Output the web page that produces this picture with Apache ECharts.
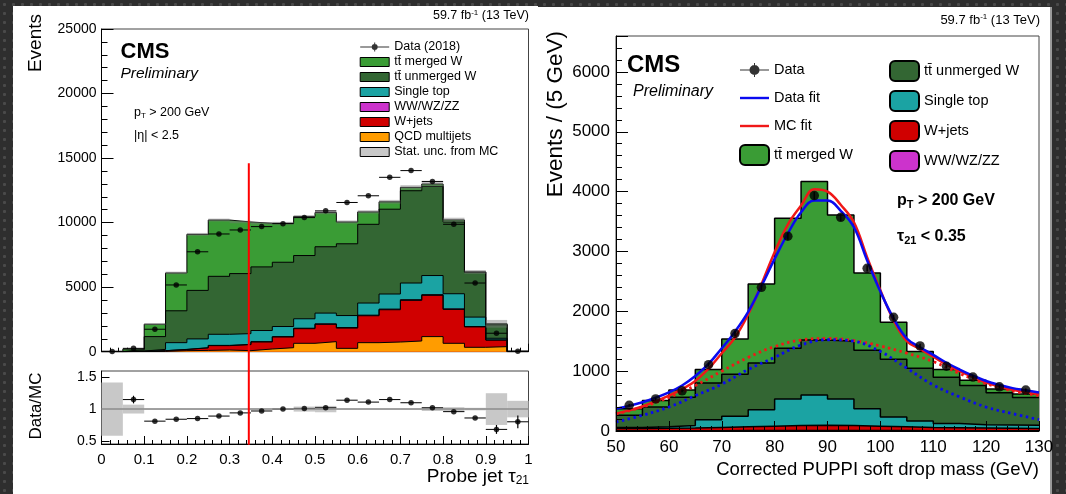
<!DOCTYPE html>
<html>
<head>
<meta charset="utf-8">
<title>CMS W tagging</title>
<script src="https://cdn.jsdelivr.net/npm/echarts@6.0.0/dist/echarts.min.js"></script>
<style>
  html, body { margin: 0; padding: 0; }
  body {
    position: relative; width: 1066px; height: 494px; overflow: hidden;
    background-color: #2e2e2e;
    background-image: radial-gradient(circle, #4a4a4a 1.3px, transparent 1.8px);
    background-size: 9px 9px;
  }
  .panel { position: absolute; background: #fff; }
  #panelLeft { left: 13px; top: 6px; width: 525px; height: 488px; }
  #panelRight { left: 538px; top: 7px; width: 512px; height: 487px; border-right: 2px solid #9a9a9a; }
  #chart { position: absolute; left: 0; top: 0; width: 1066px; height: 494px; }
</style>
</head>
<body>
<div class="panel" id="panelLeft"></div>
<div class="panel" id="panelRight"></div>
<div id="chart"></div>
<script>
// ---- left plot: probe jet tau21, 20 bins ----
const tauEdges = [0, 0.05, 0.1, 0.15, 0.2, 0.25, 0.3, 0.35, 0.4, 0.45, 0.5, 0.55, 0.6, 0.65, 0.7, 0.75, 0.8, 0.85, 0.9, 0.95, 1]
const tauQcd = [0, 10, 25, 80, 100, 130, 80, 210, 310, 650, 780, 260, 700, 750, 830, 1170, 650, 340, 390, 0]
const tauWjets = [0, 20, 50, 90, 195, 340, 470, 545, 830, 1135, 1340, 1570, 2085, 2500, 3145, 3195, 2625, 1580, 510, 10]
const tauDiboson = [0, 0, 5, 10, 15, 20, 20, 25, 30, 35, 40, 40, 45, 50, 55, 55, 45, 30, 10, 0]
const tauSingleTop = [0, 20, 100, 520, 680, 860, 830, 860, 780, 730, 830, 930, 940, 1170, 1290, 1480, 1170, 730, 130, 0]
const tauUnmerged = [20, 110, 990, 2470, 3760, 4490, 4650, 4930, 4980, 4900, 5140, 5560, 6100, 6570, 7150, 6910, 5560, 3480, 1040, 20]
const tauMerged = [10, 40, 960, 2930, 4340, 4360, 4000, 3380, 3020, 3020, 2650, 1690, 960, 570, 260, 180, 160, 20, 80, 10]
const tauStatUnc = [10, 20, 60, 100, 110, 110, 100, 100, 110, 120, 130, 120, 130, 150, 170, 190, 170, 150, 300, 10]
const tauData = [20, 260, 1740, 5170, 7740, 9120, 9430, 9690, 9920, 10390, 10910, 11560, 12080, 13510, 14030, 13190, 9870, 5320, 1430, 30]
// data / MC ratio panel
const tauRatio = [null, 1.15, 0.81, 0.84, 0.85, 0.89, 0.94, 0.97, 1.0, 1.01, 1.02, 1.14, 1.11, 1.15, 1.1, 1.02, 0.96, 0.86, 0.68, 0.8]
const tauRatioErr = [0, 0.06, 0, 0, 0, 0, 0, 0, 0, 0, 0, 0, 0, 0, 0, 0, 0, 0, 0.07, 0.1]
const tauRatioUnc = [0.42, 0.07, 0.01, 0.01, 0.01, 0.01, 0.01, 0.01, 0.01, 0.04, 0.05, 0.01, 0.01, 0.01, 0.01, 0.03, 0.03, 0.02, 0.25, 0.13]
const ratioTicks = [0.5, 1, 1.5]
// tau21 < 0.35 cut drawn across both panels
const tauCut = 0.345
const cutTop = 14600
const cutBottom = -7200

// ---- right plot: corrected PUPPI soft drop mass, 5 GeV bins ----
const massEdges = [50, 55, 60, 65, 70, 75, 80, 85, 90, 95, 100, 105, 110, 115, 120, 125, 130]
const massDiboson = [5, 5, 5, 5, 10, 10, 10, 10, 10, 10, 10, 5, 5, 5, 5, 5]
const massWjets = [35, 40, 45, 55, 60, 70, 80, 85, 80, 70, 60, 55, 50, 45, 40, 35]
const massSingleTop = [20, 25, 40, 130, 176, 275, 446, 506, 446, 292, 165, 109, 71, 55, 55, 55]
const massUnmerged = [202, 329, 473, 610, 704, 782, 847, 918, 964, 978, 965, 881, 774, 655, 540, 465]
const massMerged = [108, 109, 120, 227, 586, 1320, 2171, 2648, 2110, 1291, 616, 278, 127, 87, 60, 58]
const massData = [430, 536, 672, 1109, 1628, 2401, 3254, 3933, 3571, 2719, 1900, 1421, 1082, 902, 738, 683]
const massDataErr = [21, 23, 26, 33, 40, 49, 57, 63, 60, 52, 44, 38, 33, 30, 27, 26]
// fitted curves
const fitMass = [50, 52.5, 55, 57.5, 60, 62.5, 65, 67.5, 70, 72.5, 75, 77.5, 80, 82.5, 85, 87.5, 90, 92.5, 95, 97.5, 100, 102.5, 105, 107.5, 110, 112.5, 115, 117.5, 120, 122.5, 125, 127.5, 130]
const dataFit = [372, 420, 480, 555, 644, 760, 918, 1120, 1382, 1660, 1990, 2420, 2875, 3300, 3655, 3850, 3850, 3680, 3404, 2850, 2330, 1880, 1546, 1400, 1273, 1140, 1027, 925, 836, 770, 716, 680, 644]
const mcFit = [290, 345, 410, 495, 590, 700, 836, 1040, 1300, 1560, 1950, 2450, 2986, 3450, 3766, 4040, 4000, 3780, 3487, 2900, 2350, 1850, 1500, 1370, 1240, 1110, 1000, 900, 810, 745, 690, 650, 610]
const bkgMass = [50, 55, 60, 65, 70, 75, 80, 85, 90, 95, 100, 105, 110, 115, 120, 125, 130]
const dataBkg = [150, 262, 400, 590, 782, 1028, 1230, 1437, 1525, 1500, 1328, 1050, 770, 570, 400, 290, 190]
const mcBkg = [285, 400, 560, 760, 1000, 1230, 1410, 1520, 1546, 1510, 1420, 1300, 1160, 960, 790, 670, 590]

const FONT = "'Liberation Sans', Arial, Helvetica, sans-serif"
const C = {
  merged: '#3a9c35', unmerged: '#336633', single: '#1ba3a3',
  diboson: '#cc33cc', wjets: '#d00000', qcd: '#ff9c00', unc: '#c8c8c8'
}
const TT = 'tt\u0304'

function stepData (edges, vals) {
  const d = vals.map((v, i) => [edges[i], v])
  d.push([edges[edges.length - 1], vals[vals.length - 1]])
  return d
}
function centers (edges) {
  return edges.slice(0, -1).map((e, i) => (e + edges[i + 1]) / 2)
}
// running sums, bottom component first
function cumulate (parts) {
  const out = []
  let run = parts[0].map(() => 0)
  parts.forEach(p => {
    run = run.map((r, i) => r + p[i])
    out.push(run)
  })
  return out
}
// each layer is drawn as a filled step histogram of its cumulative height;
// series are listed top layer first so the lower layers paint over them
function stackSeries (names, colors, parts, edges, axis, lw) {
  const cum = cumulate(parts)
  return names.map((name, k) => ({
    name, type: 'line', xAxisIndex: axis, yAxisIndex: axis, step: 'end',
    symbol: 'none', silent: true, z: 2, data: stepData(edges, cum[k]),
    lineStyle: { color: '#000', width: lw }, itemStyle: { color: colors[k] },
    areaStyle: { color: colors[k], opacity: 1 }
  })).reverse()
}
function renderBox (fill) {
  return function (params, api) {
    const p0 = api.coord([api.value(0), api.value(3)])
    const p1 = api.coord([api.value(1), api.value(2)])
    return { type: 'rect', shape: { x: p0[0], y: p0[1], width: p1[0] - p0[0], height: p1[1] - p0[1] }, style: { fill } }
  }
}
// horizontal bar over the bin plus optional vertical error
function renderErrBar (params, api) {
  const y = api.value(2)
  const err = api.value(3)
  const a = api.coord([api.value(0), y])
  const b = api.coord([api.value(1), y])
  const kids = [{ type: 'line', shape: { x1: a[0], y1: a[1], x2: b[0], y2: b[1] }, style: { stroke: '#000', lineWidth: 1 } }]
  if (err > 0) {
    const mid = (api.value(0) + api.value(1)) / 2
    const t = api.coord([mid, y + err])
    const u = api.coord([mid, y - err])
    kids.push({ type: 'line', shape: { x1: t[0], y1: t[1], x2: u[0], y2: u[1] }, style: { stroke: '#000', lineWidth: 1.2 } })
  }
  return { type: 'group', children: kids }
}
function renderVErr (params, api) {
  const t = api.coord([api.value(0), api.value(2)])
  const u = api.coord([api.value(0), api.value(1)])
  return { type: 'line', shape: { x1: t[0], y1: t[1], x2: u[0], y2: u[1] }, style: { stroke: '#000', lineWidth: 1.5 } }
}

const tauCenters = centers(tauEdges)
const massCenters = centers(massEdges)
const tauParts = [tauQcd, tauWjets, tauDiboson, tauSingleTop, tauUnmerged, tauMerged]
const tauTotal = cumulate(tauParts)[tauParts.length - 1]

const dataIconSmall = 'path://M0 0L0 0M29 9L29 9M0 4L29 4L29 5L0 5ZM14 0L15 0L15 9L14 9ZM11.5 4.5A3 3 0 1 1 17.5 4.5A3 3 0 1 1 11.5 4.5Z'
const dataIconBig = 'path://M0 0L0 0M29 20L29 20M0 9.5L29 9.5L29 10.5L0 10.5ZM14 3L15 3L15 17L14 17ZM9.5 10A5 5 0 1 1 19.5 10A5 5 0 1 1 9.5 10Z'
const lineIcon = 'path://M0 0L0 0M29 20L29 20M0 8.8L29 8.8L29 11.2L0 11.2Z'

function box (name, color, bw, icon) {
  return { name, icon: icon || 'rect', itemStyle: { color, borderColor: '#000', borderWidth: bw } }
}
function txt (x, y, text, style, extra) {
  return Object.assign({
    type: 'text', x, y, silent: true,
    style: Object.assign({ text, fill: '#000', fontFamily: FONT, fontSize: 13, verticalAlign: 'middle', align: 'left' }, style)
  }, extra || {})
}
const subRich = (size, weight) => ({
  sub: { fontSize: size, fontFamily: FONT, fontWeight: weight || 'normal', padding: [Math.round(size * 0.7), 0, 0, 0] },
  sup: { fontSize: size, fontFamily: FONT, fontWeight: weight || 'normal', padding: [0, 0, Math.round(size * 0.7), 0] }
})

const chart = echarts.init(document.getElementById('chart'))
const axisText = { fontFamily: FONT, color: '#000', formatter: v => String(v) }
const blackTick = { color: '#000' }

const option = {
  animation: false,
  backgroundColor: 'transparent',
  grid: [
    { left: 101.5, top: 29, width: 427, height: 322.7, show: true, borderColor: '#444', borderWidth: 1 },
    { left: 101.5, top: 371, width: 427, height: 73, show: true, borderColor: '#444', borderWidth: 1 },
    { left: 616, top: 36, width: 423, height: 395, show: true, borderColor: '#444', borderWidth: 1 }
  ],
  xAxis: [
    {
      gridIndex: 0, type: 'value', min: 0, max: 1, interval: 0.1,
      axisLine: { lineStyle: blackTick }, axisLabel: { show: false },
      axisTick: { inside: true, length: 8, lineStyle: blackTick },
      minorTick: { show: true, splitNumber: 5, length: 4, lineStyle: blackTick },
      splitLine: { show: false }
    },
    {
      gridIndex: 1, type: 'value', min: 0, max: 1, interval: 0.1,
      axisLine: { lineStyle: blackTick },
      axisLabel: Object.assign({ fontSize: 15, margin: 8 }, axisText),
      axisTick: { inside: true, length: 8, lineStyle: blackTick },
      minorTick: { show: true, splitNumber: 5, length: 4, lineStyle: blackTick },
      splitLine: { show: false }
    },
    {
      gridIndex: 2, type: 'value', min: 50, max: 130, interval: 10, z: 10,
      axisLine: { lineStyle: blackTick },
      axisLabel: Object.assign({ fontSize: 17, margin: 8 }, axisText),
      axisTick: { inside: true, length: 10, lineStyle: blackTick },
      minorTick: { show: true, splitNumber: 5, length: 5, lineStyle: blackTick },
      splitLine: { show: false }
    }
  ],
  yAxis: [
    {
      gridIndex: 0, type: 'value', min: 0, max: 25000, interval: 5000,
      axisLine: { show: true, lineStyle: blackTick },
      axisLabel: Object.assign({ fontSize: 14, margin: 5 }, axisText),
      axisTick: { inside: true, length: 12, lineStyle: blackTick },
      minorTick: { show: true, splitNumber: 5, length: 6, lineStyle: blackTick },
      splitLine: { show: false }
    },
    {
      gridIndex: 1, type: 'value', min: 0.45, max: 1.6,
      axisLine: { show: true, lineStyle: blackTick },
      axisLabel: Object.assign({ fontSize: 14, margin: 5, customValues: ratioTicks }, axisText),
      axisTick: { inside: true, length: 8, customValues: ratioTicks, lineStyle: blackTick },
      splitLine: { show: false }
    },
    {
      gridIndex: 2, type: 'value', min: 0, max: 6600, interval: 1000, z: 10,
      axisLine: { show: true, lineStyle: blackTick },
      axisLabel: Object.assign({ fontSize: 17, margin: 6, showMaxLabel: false }, axisText),
      axisTick: { inside: true, length: 12, lineStyle: blackTick },
      minorTick: { show: true, splitNumber: 5, length: 6, lineStyle: blackTick },
      splitLine: { show: false }
    }
  ],
  legend: [
    {
      orient: 'vertical', left: 354.7, top: 34.5, itemWidth: 29, itemHeight: 9, itemGap: 0,
      selectedMode: false, textStyle: { fontFamily: FONT, fontSize: 12.5, lineHeight: 15, color: '#000' },
      data: [
        { name: 'Data (2018)', icon: dataIconSmall, itemStyle: { color: '#000', borderWidth: 0 } },
        box(TT + ' merged W', C.merged, 1),
        box(TT + ' unmerged W', C.unmerged, 1),
        box('Single top', C.single, 1),
        box('WW/WZ/ZZ', C.diboson, 1),
        box('W+jets', C.wjets, 1),
        box('QCD multijets', C.qcd, 1),
        box('Stat. unc. from MC', C.unc, 1)
      ]
    },
    {
      orient: 'vertical', left: 734, top: 55, itemWidth: 29, itemHeight: 20, itemGap: 8,
      selectedMode: false, textStyle: { fontFamily: FONT, fontSize: 14.5, lineHeight: 20, color: '#000' },
      data: [
        { name: 'Data', icon: dataIconBig, itemStyle: { color: '#000', borderWidth: 0 } },
        { name: 'Data fit', icon: lineIcon, itemStyle: { color: '#0a0af0', borderWidth: 0 } },
        { name: 'MC fit', icon: lineIcon, itemStyle: { color: '#f01818', borderWidth: 0 } },
        box(TT + ' merged W', C.merged, 2, 'roundRect')
      ]
    },
    {
      orient: 'vertical', left: 884, top: 55, itemWidth: 29, itemHeight: 20, itemGap: 8,
      selectedMode: false, textStyle: { fontFamily: FONT, fontSize: 14.5, lineHeight: 20, color: '#000' },
      data: [
        box(TT + ' unmerged W', C.unmerged, 2, 'roundRect'),
        box('Single top', C.single, 2, 'roundRect'),
        box('W+jets', C.wjets, 2, 'roundRect'),
        box('WW/WZ/ZZ', C.diboson, 2, 'roundRect')
      ]
    }
  ],
  graphic: [
    // left plot texts
    txt(529, 16, '59.7 fb{sup|-1} (13 TeV)', { fontSize: 12.5, align: 'right', rich: subRich(8) }),
    txt(120.5, 52, 'CMS', { fontSize: 22, fontWeight: 'bold' }),
    txt(120.5, 74, 'Preliminary', { fontSize: 15.5, fontStyle: 'italic' }),
    txt(134, 113, 'p{sub|T} > 200 GeV', { fontSize: 12.5, rich: subRich(8) }),
    txt(134, 136, '|\u03b7| < 2.5', { fontSize: 12.5 }),
    txt(36, 14, 'Events', { fontSize: 19, align: 'right' }, { rotation: Math.PI / 2 }),
    txt(36, 406, 'Data/MC', { fontSize: 17, align: 'center' }, { rotation: Math.PI / 2 }),
    txt(529, 477, 'Probe jet \u03c4{sub|21}', { fontSize: 19, align: 'right', rich: subRich(12) }),
    // right plot texts
    txt(1040, 20, '59.7 fb{sup|-1} (13 TeV)', { fontSize: 13, align: 'right', rich: subRich(8) }),
    txt(627, 65, 'CMS', { fontSize: 24, fontWeight: 'bold' }),
    txt(633, 92, 'Preliminary', { fontSize: 16, fontStyle: 'italic' }),
    txt(897, 201, 'p{sub|T} > 200 GeV', { fontSize: 16, fontWeight: 'bold', rich: subRich(11, 'bold') }),
    txt(897, 237, '\u03c4{sub|21} < 0.35', { fontSize: 16, fontWeight: 'bold', rich: subRich(11, 'bold') }),
    txt(556, 31, 'Events / (5 GeV)', { fontSize: 22.5, align: 'right' }, { rotation: Math.PI / 2 }),
    txt(1039, 470, 'Corrected PUPPI soft drop mass (GeV)', { fontSize: 18.5, align: 'right' })
  ],
  series: [
    // left stack
    ...stackSeries(
      ['QCD multijets', 'W+jets', 'WW/WZ/ZZ', 'Single top', TT + ' unmerged W', TT + ' merged W'],
      [C.qcd, C.wjets, C.diboson, C.single, C.unmerged, C.merged],
      tauParts, tauEdges, 0, 1),
    {
      name: 'Stat. unc. from MC', type: 'custom', xAxisIndex: 0, yAxisIndex: 0, z: 3, silent: true,
      itemStyle: { color: C.unc },
      data: tauStatUnc.map((u, i) => [tauEdges[i], tauEdges[i + 1], tauTotal[i] - u, tauTotal[i] + u]),
      encode: { x: [0, 1], y: [2, 3] },
      renderItem: renderBox('rgba(120,120,120,0.45)')
    },
    {
      type: 'custom', xAxisIndex: 0, yAxisIndex: 0, z: 5, silent: true,
      data: tauData.map((v, i) => [tauEdges[i], tauEdges[i + 1], v, 0]),
      encode: { x: [0, 1], y: 2 },
      renderItem: renderErrBar
    },
    {
      name: 'Data (2018)', type: 'scatter', xAxisIndex: 0, yAxisIndex: 0, z: 6, silent: true,
      symbolSize: 5.5, itemStyle: { color: '#000' },
      data: tauData.map((v, i) => [tauCenters[i], v])
    },
    {
      name: 'cut', type: 'line', xAxisIndex: 0, yAxisIndex: 0, z: 20, clip: false, silent: true,
      symbol: 'none', lineStyle: { color: '#ff0000', width: 2 },
      data: [[tauCut, cutTop], [tauCut, cutBottom]]
    },
    // ratio panel
    {
      type: 'custom', xAxisIndex: 1, yAxisIndex: 1, z: 1, silent: true,
      data: tauRatioUnc.map((u, i) => [tauEdges[i], tauEdges[i + 1], 1 - u, 1 + u]),
      encode: { x: [0, 1], y: [2, 3] },
      renderItem: renderBox(C.unc)
    },
    {
      type: 'custom', xAxisIndex: 1, yAxisIndex: 1, z: 4, silent: true,
      data: tauRatio.map((r, i) => [tauEdges[i], tauEdges[i + 1], r, tauRatioErr[i]]).filter(d => d[2] !== null),
      encode: { x: [0, 1], y: 2 },
      renderItem: renderErrBar
    },
    {
      type: 'scatter', xAxisIndex: 1, yAxisIndex: 1, z: 5, silent: true,
      symbolSize: 5.5, itemStyle: { color: '#000' },
      data: tauRatio.map((r, i) => [tauCenters[i], r]).filter(d => d[1] !== null),
      markLine: {
        silent: true, symbol: 'none', label: { show: false },
        lineStyle: { color: '#8c8c8c', width: 1.5, type: 'solid' },
        data: [{ yAxis: 1 }]
      }
    },
    // right stack
    ...stackSeries(
      ['WW/WZ/ZZ', 'W+jets', 'Single top', TT + ' unmerged W', TT + ' merged W'],
      [C.diboson, C.wjets, C.single, C.unmerged, C.merged],
      [massDiboson, massWjets, massSingleTop, massUnmerged, massMerged], massEdges, 2, 1.5),
    {
      name: 'MC bkg', type: 'line', xAxisIndex: 2, yAxisIndex: 2, z: 4, smooth: 0.4, symbol: 'none', silent: true,
      lineStyle: { color: '#f01818', width: 2.8, type: [2.5, 3.5] },
      data: bkgMass.map((m, i) => [m, mcBkg[i]])
    },
    {
      name: 'Data bkg', type: 'line', xAxisIndex: 2, yAxisIndex: 2, z: 4, smooth: 0.4, symbol: 'none', silent: true,
      lineStyle: { color: '#0a0af0', width: 2.8, type: [2.5, 3.5] },
      data: bkgMass.map((m, i) => [m, dataBkg[i]])
    },
    {
      name: 'MC fit', type: 'line', xAxisIndex: 2, yAxisIndex: 2, z: 5, smooth: 0.4, symbol: 'none', silent: true,
      itemStyle: { color: '#f01818' }, lineStyle: { color: '#f01818', width: 2.5 },
      data: fitMass.map((m, i) => [m, mcFit[i]])
    },
    {
      name: 'Data fit', type: 'line', xAxisIndex: 2, yAxisIndex: 2, z: 6, smooth: 0.4, symbol: 'none', silent: true,
      itemStyle: { color: '#0a0af0' }, lineStyle: { color: '#0a0af0', width: 2.5 },
      data: fitMass.map((m, i) => [m, dataFit[i]])
    },
    {
      type: 'custom', xAxisIndex: 2, yAxisIndex: 2, z: 7, silent: true,
      data: massData.map((v, i) => [massCenters[i], v - massDataErr[i], v + massDataErr[i]]),
      encode: { x: 0, y: [1, 2] },
      renderItem: renderVErr
    },
    {
      name: 'Data', type: 'scatter', xAxisIndex: 2, yAxisIndex: 2, z: 8, silent: true,
      symbolSize: 9.5, itemStyle: { color: '#000' },
      data: massData.map((v, i) => [massCenters[i], v])
    }
  ]
}
chart.setOption(option)
</script>
</body>
</html>
